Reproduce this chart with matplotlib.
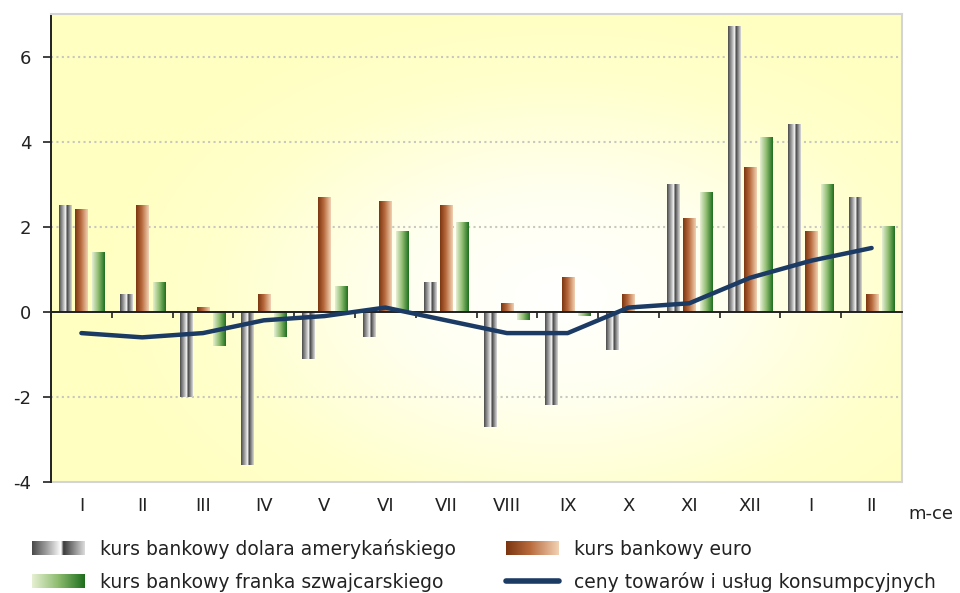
import numpy as np
import matplotlib
matplotlib.use("Agg")
import matplotlib.pyplot as plt
from matplotlib.colors import LinearSegmentedColormap
from matplotlib.legend_handler import HandlerBase
from matplotlib.image import BboxImage
from matplotlib.transforms import Bbox, TransformedBbox
from matplotlib.lines import Line2D
from matplotlib.patches import Patch, Rectangle

plt.rcParams['font.family'] = ['DejaVu Sans']

months = ["I", "II", "III", "IV", "V", "VI", "VII", "VIII", "IX", "X", "XI", "XII", "I", "II"]
usd = [2.5, 0.4, -2.0, -3.6, -1.1, -0.6, 0.7, -2.7, -2.2, -0.9, 3.0, 6.7, 4.4, 2.7]
eur = [2.4, 2.5, 0.1, 0.4, 2.7, 2.6, 2.5, 0.2, 0.8, 0.4, 2.2, 3.4, 1.9, 0.4]
chf = [1.4, 0.7, -0.8, -0.6, 0.6, 1.9, 2.1, -0.2, -0.1, 0.0, 2.8, 4.1, 3.0, 2.0]
cpi = [-0.5, -0.6, -0.5, -0.2, -0.1, 0.1, -0.2, -0.5, -0.5, 0.1, 0.2, 0.8, 1.2, 1.5]

lab_usd = "kurs bankowy dolara amerykańskiego"
lab_eur = "kurs bankowy euro"
lab_chf = "kurs bankowy franka szwajcarskiego"
lab_cpi = "ceny towarów i usług konsumpcyjnych"

cm_gray = LinearSegmentedColormap.from_list("g", [(0, "#4a4a4a"), (0.3, "#a8a8a8"), (0.55, "#ffffff"),
                                                  (0.6, "#3c3c3c"), (0.8, "#8c8c8c"), (1, "#dcdcdc")])
cm_brown = LinearSegmentedColormap.from_list("b", [(0, "#7a3510"), (0.45, "#b86a3c"), (1, "#f2d2b4")])
cm_green = LinearSegmentedColormap.from_list("gr", [(0, "#e6f0d2"), (0.5, "#8cbb6e"), (1, "#1e6e1e")])
cm_bg = LinearSegmentedColormap.from_list("bg", [(0, "#ffffff"), (0.35, "#fffff0"), (0.75, "#ffffcc"), (1, "#ffffc2")])

fig = plt.figure(figsize=(9.6, 5.93), dpi=100)
ax = fig.add_axes([51/960, 1-482/593, 851/960, 468/593])

# background radial gradient
gx, gy = np.meshgrid(np.linspace(0, 1, 300), np.linspace(0, 1, 300))
r = np.sqrt(((gx - 0.6) / 0.55) ** 2 + ((gy - 0.4) / 0.62) ** 2)
ax.imshow(np.clip(r, 0, 1), cmap=cm_bg, extent=[0, 1, 0, 1], transform=ax.transAxes,
          aspect='auto', origin='lower', zorder=0, interpolation='bilinear')

x = np.arange(len(months))
w = 0.2
off = 0.27
grad = np.linspace(0, 1, 128).reshape(1, -1)
for vals, dx, cm in [(usd, -off, cm_gray), (eur, 0, cm_brown), (chf, off, cm_green)]:
    bars = ax.bar(x + dx, vals, width=w, facecolor='none', edgecolor='none', zorder=2)
    for p in bars:
        bx, by = p.get_x(), p.get_y()
        bw, bh = p.get_width(), p.get_height()
        if bh == 0:
            continue
        ax.imshow(grad, cmap=cm, extent=[bx, bx + bw, by, by + bh], aspect='auto',
                  zorder=2, interpolation='bilinear')

ax.plot(x, cpi, color="#1b3a64", lw=3.2, solid_joinstyle='round', solid_capstyle='round', zorder=4)

ax.set_xlim(-0.5, len(months) - 0.5)
ax.set_ylim(-4, 7)
ax.set_yticks([-4, -2, 0, 2, 4, 6])
ax.set_yticklabels(["-4", "-2", "0", "2", "4", "6"])
for yv in [-2, 2, 4, 6]:
    ax.axhline(yv, color="#c8c8c0", lw=1.5, ls=(0, (1, 1.6)), zorder=1)

# spines
for s in ['top', 'right']:
    ax.spines[s].set_color("#d4d4d4")
    ax.spines[s].set_linewidth(1.5)
ax.spines['left'].set_color("#202020")
ax.spines['left'].set_linewidth(1.4)
ax.spines['bottom'].set_position(('data', 0))
ax.spines['bottom'].set_color("#202020")
ax.spines['bottom'].set_linewidth(1.4)
ax.spines['bottom'].set_zorder(3)
ax.add_patch(Rectangle((0, 0), 1, 0, transform=ax.transAxes, fill=False,
                       edgecolor="#d4d4d4", lw=1.5, clip_on=False, zorder=1))

ax.set_xticks(np.arange(len(months) + 1) - 0.5)
ax.set_xticklabels([])
ax.tick_params(axis='x', direction='out', length=4, width=1.2, color="#202020")
ax.tick_params(axis='y', direction='out', length=6, width=1.2, color="#202020",
               pad=8, labelsize=13, labelcolor="#222222")

sec = ax.secondary_xaxis(0)
sec.set_xticks(x)
sec.set_xticklabels(months)
sec.tick_params(length=0, pad=11, labelsize=13, labelcolor="#222222")
sec.spines['bottom'].set_visible(False)

ax.text(1.008, -0.068, "m-ce", transform=ax.transAxes, fontsize=13, color="#222222",
        ha='left', va='center')


class GradHandler(HandlerBase):
    def __init__(self, cmap):
        super().__init__()
        self.cmap = cmap

    def create_artists(self, legend, orig_handle, xdescent, ydescent, width, height, fontsize, trans):
        bb = Bbox.from_bounds(-xdescent, -ydescent + height * 0.08, width, height * 0.84)
        im = BboxImage(TransformedBbox(bb, trans), cmap=self.cmap, interpolation='bilinear')
        im.set_data(np.linspace(0, 1, 128).reshape(1, -1))
        return [im]


h_usd = Patch(label=lab_usd)
h_eur = Patch(label=lab_eur)
h_chf = Patch(label=lab_chf)
h_cpi = Line2D([], [], color="#1b3a64", lw=4, solid_capstyle='round', label=lab_cpi)
leg = fig.legend(handles=[h_usd, h_chf, h_eur, h_cpi],
                 labels=[lab_usd, lab_chf, lab_eur, lab_cpi],
                 handler_map={h_usd: GradHandler(cm_gray), h_eur: GradHandler(cm_brown),
                              h_chf: GradHandler(cm_green)},
                 ncol=2, loc='upper left', bbox_to_anchor=(32/960, 1-539/593),
                 frameon=False, fontsize=13.5, handlelength=2.8, handleheight=0.9,
                 handletextpad=0.8, columnspacing=2.72, labelspacing=0.72,
                 borderaxespad=0, borderpad=0)
for t in leg.get_texts():
    t.set_color("#222222")

fig.savefig("out.png", dpi=100)
